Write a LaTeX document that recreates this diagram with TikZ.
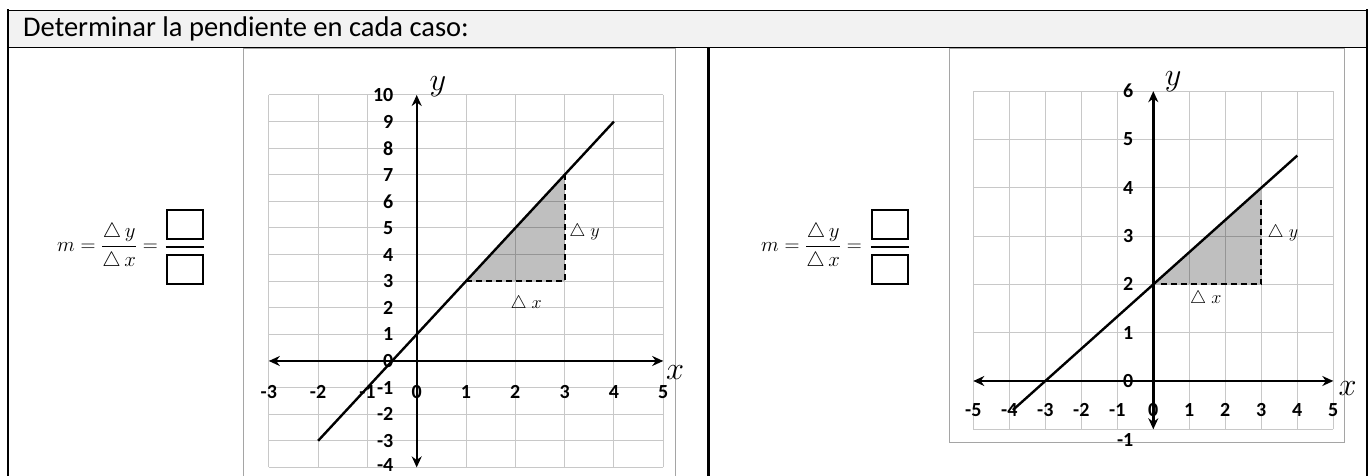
\documentclass[tikz,border=0pt]{standalone}
\usepackage{amsmath,amssymb}
\usepackage{fontspec}
\setmainfont{Carlito}
\usepackage{xcolor}
\usepackage{tikz}
\usetikzlibrary{arrows, arrows.meta, positioning}
\definecolor{headgray}{RGB}{242,242,242}
\definecolor{gridgray}{RGB}{200,200,200}
\definecolor{framegray}{RGB}{165,165,165}
\tikzstyle{gridline} = [draw=gridgray, line width=1pt]
\tikzstyle{axis} = [line width=2.4pt, <->, >={Stealth[length=11pt, width=10pt]}]
\tikzstyle{graphline} = [line width=2.4pt]
\tikzstyle{deltaline} = [line width=2pt, dash pattern=on 6pt off 4pt]
\tikzstyle{shaded} = [fill=black, fill opacity=0.25]
\tikzstyle{ticklabel} = [font=\fontsize{20}{20}\selectfont\bfseries, inner sep=0pt]
\tikzstyle{axislabel} = [font=\fontsize{24}{24}\selectfont, inner sep=0pt, scale=1.3, transform shape]
\tikzstyle{deltalabel} = [font=\fontsize{17}{17}\selectfont, inner sep=0pt, scale=1.05, transform shape]
\tikzstyle{answerbox} = [rectangle, draw=black, line width=2pt, minimum width=36pt, minimum height=29pt, inner sep=0pt]
\tikzstyle{formula} = [font=\fontsize{20}{20}\selectfont, inner sep=0pt, anchor=base east]
\tikzstyle{frame} = [draw=framegray, line width=1pt]

\begin{document}
\begin{tikzpicture}[x=1pt, y=1pt]
\useasboundingbox (0,0) rectangle (1368,476);

% table
\draw[fill=headgray, line width=1.2pt] (7.5,428.5) rectangle (1367,465.5);
\node[font=\fontsize{28.5}{28.5}\selectfont, inner sep=0pt, anchor=base west] (title) at (23,439.3) {Determinar la pendiente en cada caso:};
\draw[line width=2pt] (7.5,-2) -- (7.5,466.5);
\draw[line width=2pt] (1367,-2) -- (1367,466.5);
\draw[line width=2.2pt] (708.5,-2) -- (708.5,428.5);

% picture frames
\draw[frame] (243,-5) -- (243,427.5) -- (675,427.5) -- (675,-5);
\draw[frame] (949,33) rectangle (1344,427.5);

% formulas
\node[formula] (formula1) at (158,224) {$m=\dfrac{\triangle\,y}{\triangle\,x}=$};
\node[answerbox] (numbox1) at (184.7,251.5) {};
\node[answerbox, below=14pt of numbox1] (denbox1) {};
\path (numbox1.south) -- (denbox1.north) coordinate[pos=0.5] (mid1);
\draw[line width=2pt] (mid1 -| numbox1.west) -- (mid1 -| numbox1.east);

\node[formula] (formula2) at (862,224) {$m=\dfrac{\triangle\,y}{\triangle\,x}=$};
\node[answerbox] (numbox2) at (889.9,251.5) {};
\node[answerbox, below=14pt of numbox2] (denbox2) {};
\path (numbox2.south) -- (denbox2.north) coordinate[pos=0.5] (mid2);
\draw[line width=2pt] (mid2 -| numbox2.west) -- (mid2 -| numbox2.east);

% first graph: y = 2x + 1
\begin{scope}[shift={(416.7pt,115pt)}, x=49.3pt, y=26.6pt]
\foreach \x in {-3,...,5}
  \draw[gridline] (\x,-4) -- (\x,10);
\foreach \y in {-4,...,10}
  \draw[gridline] (-3,\y) -- (5,\y);
\fill[shaded] (1,3) -- (3,3) -- (3,7) -- cycle;
\draw[deltaline] (1,3) -- (3,3) -- (3,7);
\draw[axis] (-3,0) -- (5,0);
\draw[axis] (0,-4) -- (0,10);
\draw[graphline] (-2,-3) -- (4,9);
\foreach \y in {-3,...,10}
  \node[ticklabel, anchor=east] (ytickA\y) at (-0.47,\y) {\y};
\node[ticklabel, anchor=east] (ytickAm) at (-0.47,-3.9) {-4};
\foreach \x in {-3,...,5}
  \node[ticklabel] (xtickA\x) at (\x,-1.15) {\x};
\node[axislabel] (ylabA) at (0.43,10.3) {$y$};
\node[axislabel] (xlabA) at (5.24,-0.45) {$x$};
\node[deltalabel, anchor=west] (dyA) at (3.09,4.85) {$\triangle\;y$};
\node[deltalabel] (dxA) at (2.22,2.14) {$\triangle\;x$};
\end{scope}

% second graph: y = 2/3 x + 2
\begin{scope}[shift={(1153.3pt,95pt)}, x=36pt, y=48.3pt]
\foreach \x in {-5,...,5}
  \draw[gridline] (\x,-1) -- (\x,6);
\foreach \y in {-1,...,6}
  \draw[gridline] (-5,\y) -- (5,\y);
\fill[shaded] (0,2) -- (3,2) -- (3,4) -- cycle;
\draw[deltaline] (0.2,2) -- (3,2) -- (3,3.75);
\draw[axis] (-5,0) -- (5,0);
\draw[axis] (0,-1) -- (0,6);
\draw[graphline] (-3.9,-0.6) -- (4,4.667);
\foreach \y in {0,...,6}
  \node[ticklabel, anchor=east] (ytickB\y) at (-0.55,\y) {\y};
\node[ticklabel, anchor=east] (ytickBm) at (-0.55,-1.22) {-1};
\foreach \x in {-5,...,5}
  \node[ticklabel] (xtickB\x) at (\x,-0.6) {\x};
\node[axislabel] (ylabB) at (0.55,6.19) {$y$};
\node[axislabel] (xlabB) at (5.4,-0.15) {$x$};
\node[deltalabel, anchor=west] (dyB) at (3.17,3.06) {$\triangle\;y$};
\node[deltalabel] (dxB) at (1.46,1.70) {$\triangle\;x$};
\end{scope}

\end{tikzpicture}
\end{document}
